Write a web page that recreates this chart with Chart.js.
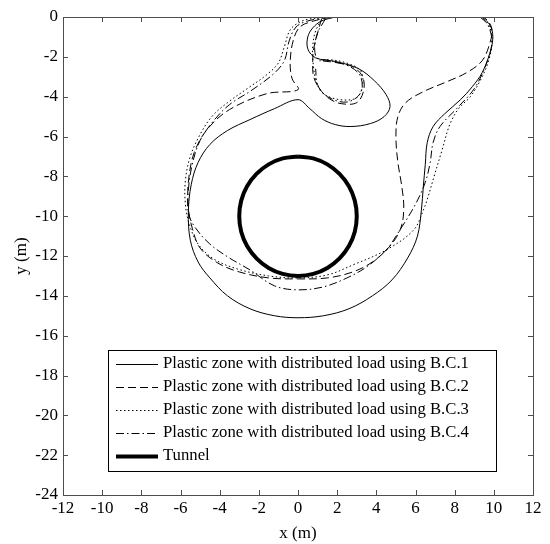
<!DOCTYPE html>
<html>
<head>
<meta charset="utf-8">
<script src="https://cdn.jsdelivr.net/npm/chart.js@4.4.0/dist/chart.umd.min.js"></script>
<style>
  html, body { margin: 0; padding: 0; background: #fff; }
</style>
</head>
<body>
<canvas id="plasticChart" width="550" height="544"></canvas>
<script>
// Plastic zone boundaries around a tunnel (x, y in metres)

const xTicks = [-12, -10, -8, -6, -4, -2, 0, 2, 4, 6, 8, 10, 12];
const yTicks = [0, -2, -4, -6, -8, -10, -12, -14, -16, -18, -20, -22, -24];

const seriesNames = [
    'Plastic zone with distributed load using B.C.1',
    'Plastic zone with distributed load using B.C.2',
    'Plastic zone with distributed load using B.C.3',
    'Plastic zone with distributed load using B.C.4',
    'Tunnel'
];

// B.C.1 (solid)
const bc1 = [
    [1.9, 0], [1.2, -0.2], [0.75, -0.55], [0.5, -1.0], [0.5, -1.6], [0.9, -2.05], [2.0, -2.25],
    [3.1, -2.6], [3.9, -3.2], [4.5, -3.9], [4.7, -4.5], [4.4, -5.0], [3.7, -5.35], [2.7, -5.5],
    [1.9, -5.4], [1.2, -5.1], [0.6, -4.6], [0, -4.15], [-1.2, -4.6], [-2.45, -5.15], [-3.6, -5.7],
    [-4.5, -6.4], [-5.1, -7.3], [-5.45, -8.4], [-5.6, -9.8], [-5.5, -11.2], [-5.1, -12.3],
    [-4.5, -13.1], [-3.6, -14.0], [-2.45, -14.65], [-1.2, -15.0], [0, -15.1], [1.3, -15.0],
    [2.6, -14.65], [3.8, -14.0], [4.8, -13.2], [5.6, -12.1], [6.1, -11.0], [6.3, -9.7],
    [6.4, -8.5], [6.5, -7.4], [6.6, -6.3], [6.9, -5.5], [7.5, -4.85], [8.3, -4.15], [8.9, -3.5],
    [9.4, -2.8], [9.8, -1.8], [9.95, -1.0], [9.8, -0.4], [9.4, 0]
];

// B.C.2 (dashed)
const bc2 = [
    [1.7, 0], [0.8, -0.2], [0.1, -0.5], [-0.25, -1.2], [-0.4, -2.3], [-0.3, -3.1], [0, -3.65],
    [-1.6, -3.85], [-3.5, -4.65], [-4.6, -5.6], [-5.3, -6.8], [-5.6, -8.3], [-5.6, -9.6],
    [-5.4, -10.6], [-5.0, -11.6], [-4.1, -12.35], [-3.0, -12.8], [-1.5, -13.1], [0, -13.15],
    [1.5, -13.1], [2.8, -12.8], [3.8, -12.3], [4.7, -11.5], [5.25, -10.6], [5.4, -9.6],
    [5.3, -8.5], [5.1, -7.3], [5.0, -6.0], [5.1, -5.0], [5.5, -4.3], [6.4, -3.75], [7.6, -3.25],
    [8.6, -2.8], [9.4, -2.2], [9.8, -1.3], [9.9, -0.6], [9.6, -0.1], [9.2, 0]
];
const bc2Loop = [
    [1.2, -0.1], [1.0, -0.8], [0.8, -1.6], [0.75, -2.3], [0.8, -3.0], [1.1, -3.6], [1.6, -4.1],
    [2.2, -4.35], [3.0, -4.3], [3.35, -3.7], [3.3, -3.0], [2.8, -2.5], [2.0, -2.3], [1.2, -2.2]
];

// B.C.3 (dotted)
const bc3 = [
    [1.7, 0], [0.6, -0.1], [0.1, -0.25], [-0.4, -0.65], [-0.7, -1.5], [-1.0, -2.3], [-1.6, -2.9],
    [-2.6, -3.6], [-3.6, -4.3], [-4.4, -5.0], [-5.0, -5.9], [-5.5, -7.0], [-5.75, -8.2],
    [-5.75, -9.4], [-5.55, -10.4], [-5.1, -11.4], [-4.3, -12.15], [-3.1, -12.65], [-1.5, -13.0],
    [0, -13.1], [1.5, -12.95], [2.8, -12.45], [4.5, -11.7], [5.9, -10.7], [6.4, -9.7],
    [6.65, -9.0], [6.95, -8.0], [7.35, -6.7], [7.75, -5.4], [8.2, -4.6], [8.8, -4.0], [9.3, -3.2],
    [9.7, -2.3], [9.9, -1.3], [9.75, -0.4], [9.3, 0]
];
const bc3Loop = [
    [1.3, 0], [0.9, -0.7], [0.75, -1.5], [0.77, -2.3], [0.95, -3.3], [1.3, -3.85], [2.15, -4.15],
    [3.0, -4.05], [3.3, -3.4], [3.2, -2.7], [2.6, -2.35], [1.7, -2.15], [1.1, -2.2]
];

// B.C.4 (dash-dot)
const bc4 = [
    [1.6, 0], [0.5, -0.2], [-0.1, -0.5], [-0.45, -1.2], [-0.7, -2.2], [-1.3, -2.9], [-2.4, -3.7],
    [-3.5, -4.4], [-4.3, -5.2], [-5.0, -6.2], [-5.4, -7.4], [-5.6, -8.7], [-5.6, -9.8],
    [-5.3, -10.5], [-4.5, -11.4], [-3.5, -12.1], [-2.45, -12.7], [-1.2, -13.5], [0, -13.7],
    [1.3, -13.55], [2.5, -13.1], [3.5, -12.55], [4.5, -11.7], [5.2, -10.7], [6.0, -9.4],
    [6.5, -8.3], [6.75, -7.3], [6.9, -6.3], [7.25, -5.5], [8.1, -4.6], [9.0, -3.6], [9.6, -2.4],
    [9.9, -1.3], [9.7, -0.4], [9.3, 0]
];
const bc4Loop = [
    [1.4, -0.1], [1.0, -0.8], [0.85, -1.6], [1.0, -2.1], [1.5, -2.16], [2.66, -2.5], [3.2, -3.0],
    [3.2, -3.8], [2.5, -4.27], [1.5, -4.0], [1.0, -3.4], [0.9, -2.6]
];

// Tunnel outline (centre 0,-10, radius 3)
const tunnel = [
    [0, -7], [0.78, -7.1], [1.5, -7.4], [2.12, -7.88], [2.6, -8.5], [2.9, -9.22], [3, -10],
    [2.9, -10.78], [2.6, -11.5], [2.12, -12.12], [1.5, -12.6], [0.78, -12.9], [0, -13],
    [-0.78, -12.9], [-1.5, -12.6], [-2.12, -12.12], [-2.6, -11.5], [-2.9, -10.78], [-3, -10],
    [-2.9, -9.22], [-2.6, -8.5], [-2.12, -7.88], [-1.5, -7.4], [-0.78, -7.1], [0, -7]
];

const FONT = "'Liberation Serif', 'Times New Roman', serif";

const styles = [
    { width: 1, dash: [] },
    { width: 1, dash: [8, 4] },
    { width: 1, dash: [1.5, 2.5] },
    { width: 1, dash: [8, 3, 1.5, 3] },
    { width: 4, dash: [] }
];

function toPoints(arr) {
    return arr.map(p => ({ x: p[0], y: p[1] }));
}

function lineSet(arr, style) {
    return {
        data: toPoints(arr),
        showLine: true,
        borderColor: '#000',
        borderWidth: style.width,
        borderDash: style.dash,
        pointRadius: 0,
        tension: 0.35,
        fill: false
    };
}

// frame round the whole plot with inward ticks (MATLAB look)
const framePlugin = {
    id: 'frame',
    afterDraw(chart) {
        const ctx = chart.ctx;
        const area = chart.chartArea;
        const xs = chart.scales.x;
        const ys = chart.scales.y;
        ctx.save();
        ctx.strokeStyle = '#4d4d4d';
        ctx.lineWidth = 1;
        ctx.strokeRect(area.left + 0.5, area.top + 0.5, area.right - area.left, area.bottom - area.top);
        ctx.beginPath();
        xTicks.forEach(v => {
            const px = Math.round(xs.getPixelForValue(v)) + 0.5;
            ctx.moveTo(px, area.bottom);
            ctx.lineTo(px, area.bottom - 5);
            ctx.moveTo(px, area.top);
            ctx.lineTo(px, area.top + 5);
        });
        yTicks.forEach(v => {
            const py = Math.round(ys.getPixelForValue(v)) + 0.5;
            ctx.moveTo(area.left, py);
            ctx.lineTo(area.left + 5, py);
            ctx.moveTo(area.right, py);
            ctx.lineTo(area.right - 5, py);
        });
        ctx.stroke();
        ctx.restore();
    }
};

// boxed legend inside the plot, lower middle
const legendPlugin = {
    id: 'boxLegend',
    afterDraw(chart) {
        const ctx = chart.ctx;
        const box = { left: 108, top: 350, right: 496, bottom: 471 };
        ctx.save();
        ctx.fillStyle = '#fff';
        ctx.fillRect(box.left, box.top, box.right - box.left, box.bottom - box.top);
        ctx.strokeStyle = '#000';
        ctx.lineWidth = 1;
        ctx.strokeRect(box.left + 0.5, box.top + 0.5, box.right - box.left, box.bottom - box.top);
        ctx.font = '16.7px ' + FONT;
        ctx.textBaseline = 'middle';
        ctx.fillStyle = '#000';
        seriesNames.forEach((name, i) => {
            const y = box.top + 14 + i * 23;
            const st = styles[i];
            ctx.beginPath();
            ctx.setLineDash(st.dash);
            ctx.lineWidth = st.width;
            ctx.moveTo(116, Math.round(y) + 0.5);
            ctx.lineTo(158, Math.round(y) + 0.5);
            ctx.stroke();
            ctx.setLineDash([]);
            ctx.fillText(name, 163, y);
        });
        ctx.restore();
    }
};

const ctx = document.getElementById('plasticChart');

new Chart(ctx, {
    type: 'scatter',
    data: {
        datasets: [
            lineSet(bc1, styles[0]),
            lineSet(bc2, styles[1]),
            lineSet(bc2Loop, styles[1]),
            lineSet(bc3, styles[2]),
            lineSet(bc3Loop, styles[2]),
            lineSet(bc4, styles[3]),
            lineSet(bc4Loop, styles[3]),
            lineSet(tunnel, styles[4])
        ]
    },
    options: {
        responsive: false,
        animation: false,
        devicePixelRatio: 1,
        layout: { padding: { top: 17, right: 17, left: 0, bottom: 0 } },
        plugins: {
            legend: { display: false },
            tooltip: { enabled: false }
        },
        scales: {
            x: {
                type: 'linear',
                min: -12,
                max: 12,
                afterFit: s => { s.height = 49; },
                afterBuildTicks: s => { s.ticks = xTicks.map(v => ({ value: v })); },
                grid: { display: false, drawTicks: false },
                border: { display: false },
                ticks: { color: '#000', font: { family: FONT, size: 17 }, padding: 3, maxRotation: 0 },
                title: { display: true, text: 'x (m)', color: '#000', font: { family: FONT, size: 17 }, padding: { top: 0, bottom: 0 } }
            },
            y: {
                type: 'linear',
                min: -24,
                max: 0,
                afterFit: s => { s.width = 63; },
                afterBuildTicks: s => { s.ticks = yTicks.map(v => ({ value: v })); },
                grid: { display: false, drawTicks: false },
                border: { display: false },
                ticks: { color: '#000', font: { family: FONT, size: 17 }, padding: 5 },
                title: { display: true, text: 'y (m)', color: '#000', font: { family: FONT, size: 17 }, padding: { top: 11, bottom: 0 } }
            }
        }
    },
    plugins: [framePlugin, legendPlugin]
});
</script>
</body>
</html>
